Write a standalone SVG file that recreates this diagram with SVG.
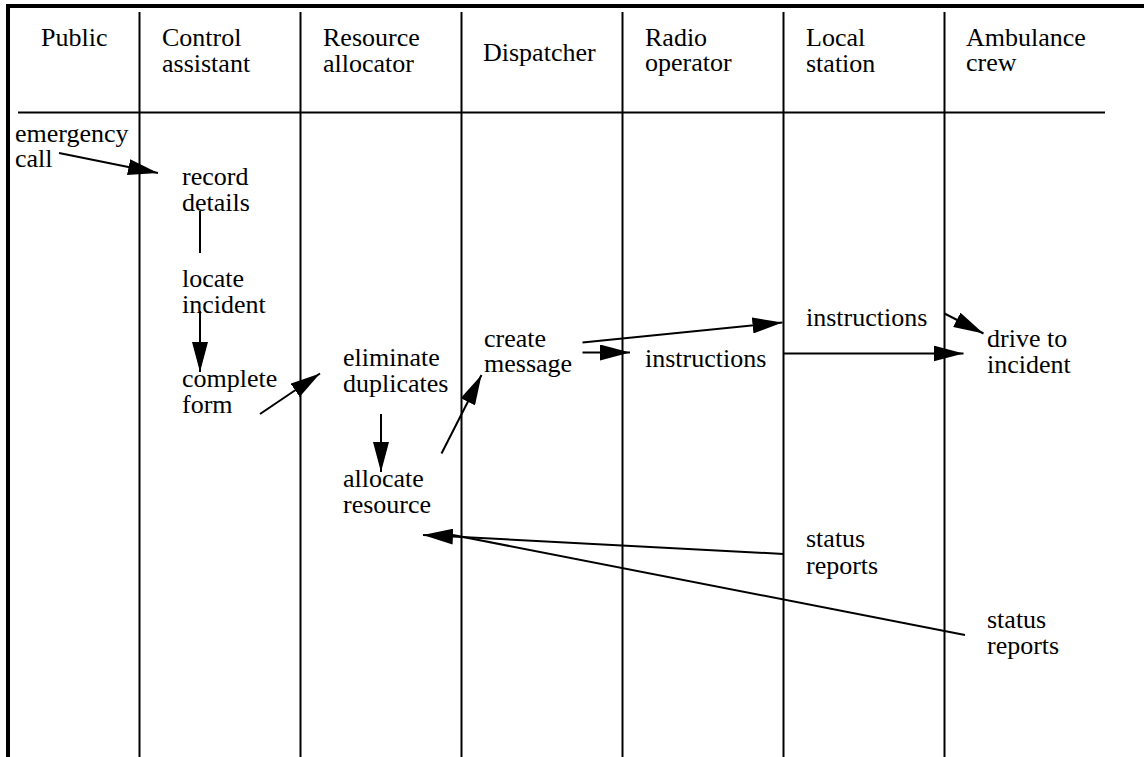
<svg xmlns="http://www.w3.org/2000/svg" width="1144" height="757" viewBox="0 0 1144 757">
  <style>
    text { font-family: "Liberation Serif", "Times New Roman", serif; font-size: 26px; fill: #000; }
    .frame { stroke: #000; stroke-width: 4; fill: none; }
    .lane { stroke: #000; stroke-width: 2; fill: none; }
    .flow { stroke: #000; stroke-width: 2; fill: none; }
    .arrow { marker-end: url(#head); }
  </style>
  <defs>
    <marker id="head" markerUnits="userSpaceOnUse" markerWidth="30" markerHeight="16" refX="30" refY="8" orient="auto">
      <path d="M0,0 L30,8 L0,16 Z" fill="#000"/>
    </marker>
  </defs>

  <rect width="1144" height="757" fill="#fff"/>

  <!-- outer frame: top and left edges -->
  <g id="frame">
    <line class="frame" x1="6" y1="6" x2="1144" y2="6"/>
    <line class="frame" x1="8" y1="4" x2="8" y2="757"/>
  </g>

  <!-- swimlane grid -->
  <g id="lanes">
    <line class="lane" x1="18" y1="112.5" x2="1105" y2="112.5"/>
    <line class="lane" x1="139.5" y1="12" x2="139.5" y2="757"/>
    <line class="lane" x1="300.5" y1="12" x2="300.5" y2="757"/>
    <line class="lane" x1="461.5" y1="12" x2="461.5" y2="757"/>
    <line class="lane" x1="622.5" y1="12" x2="622.5" y2="757"/>
    <line class="lane" x1="783.5" y1="12" x2="783.5" y2="757"/>
    <line class="lane" x1="944.5" y1="12" x2="944.5" y2="757"/>
  </g>

  <!-- lane headers -->
  <g id="lane-public"><text x="41" y="46">Public</text></g>
  <g id="lane-control-assistant"><text x="162" y="46">Control<tspan x="162" dy="26">assistant</tspan></text></g>
  <g id="lane-resource-allocator"><text x="323" y="46">Resource<tspan x="323" dy="26">allocator</tspan></text></g>
  <g id="lane-dispatcher"><text x="483" y="61">Dispatcher</text></g>
  <g id="lane-radio-operator"><text x="645" y="46">Radio<tspan x="645" dy="25">operator</tspan></text></g>
  <g id="lane-local-station"><text x="806" y="46">Local<tspan x="806" dy="26">station</tspan></text></g>
  <g id="lane-ambulance-crew"><text x="966" y="46">Ambulance<tspan x="966" dy="25">crew</tspan></text></g>

  <!-- activities -->
  <g id="emergency-call"><text x="15" y="142">emergency<tspan x="15" dy="25">call</tspan></text></g>
  <g id="record-details"><text x="182" y="185">record<tspan x="182" dy="26">details</tspan></text></g>
  <g id="locate-incident"><text x="182" y="287">locate<tspan x="182" dy="26">incident</tspan></text></g>
  <g id="complete-form"><text x="182" y="387">complete<tspan x="182" dy="26">form</tspan></text></g>
  <g id="eliminate-duplicates"><text x="343" y="366">eliminate<tspan x="343" dy="26">duplicates</tspan></text></g>
  <g id="allocate-resource"><text x="343" y="487">allocate<tspan x="343" dy="26">resource</tspan></text></g>
  <g id="create-message"><text x="484" y="347">create<tspan x="484" dy="25">message</tspan></text></g>
  <g id="radio-instructions"><text x="645" y="367">instructions</text></g>
  <g id="station-instructions"><text x="806" y="326">instructions</text></g>
  <g id="drive-to-incident"><text x="987" y="347">drive to<tspan x="987" dy="26">incident</tspan></text></g>
  <g id="station-status-reports"><text x="806" y="547">status<tspan x="806" dy="27">reports</tspan></text></g>
  <g id="crew-status-reports"><text x="987" y="628">status<tspan x="987" dy="26">reports</tspan></text></g>

  <!-- connectors -->
  <g id="connectors">
    <line class="flow arrow" x1="59" y1="153" x2="158" y2="173"/>
    <line class="flow" x1="200" y1="211" x2="200" y2="253"/>
    <line class="flow arrow" x1="200" y1="311" x2="200" y2="372"/>
    <line class="flow arrow" x1="260" y1="414" x2="320" y2="373.5"/>
    <line class="flow arrow" x1="381" y1="414" x2="381" y2="472"/>
    <line class="flow arrow" x1="441.5" y1="453.5" x2="481.5" y2="375"/>
    <line class="flow arrow" x1="582.5" y1="352.5" x2="630" y2="352.5"/>
    <line class="flow arrow" x1="582.5" y1="342.5" x2="782.5" y2="322.5"/>
    <line class="flow arrow" x1="944.5" y1="313.5" x2="983.5" y2="333.5"/>
    <line class="flow arrow" x1="783.5" y1="353.5" x2="963.5" y2="353.5"/>
    <line class="flow arrow" x1="783.5" y1="554" x2="423" y2="535"/>
    <line class="flow" x1="965" y1="635" x2="453" y2="535"/>
  </g>
</svg>
